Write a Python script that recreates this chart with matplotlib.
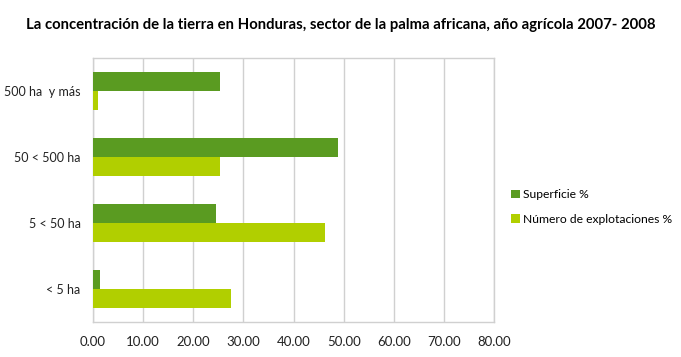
import matplotlib.pyplot as plt
import numpy as np

categories = ['< 5 ha', '5 < 50 ha', '50 < 500 ha', '500 ha  y más']
superficie = [1.45, 24.5, 48.8, 25.3]
explotaciones = [27.5, 46.2, 25.3, 1.0]
xticks = [0, 10, 20, 30, 40, 50, 60, 70, 80]

dark_green = '#5A9B21'
light_green = '#B1CF00'
grid_grey = '#D0D0D0'


def main():
    plt.rcParams['font.family'] = ['Lato', 'DejaVu Sans']
    fig = plt.figure(figsize=(6.81, 3.57), dpi=100)
    ax = fig.add_axes([0.1366, 0.099, 0.5888, 0.739])

    y = np.arange(len(categories))
    h = 0.287
    ax.barh(y + h / 2, superficie, height=h, color=dark_green, label='Superficie %', zorder=3)
    ax.barh(y - h / 2, explotaciones, height=h, color=light_green,
            label='Número de explotaciones %', zorder=3)

    ax.set_xlim(0, 80)
    ax.set_ylim(-0.5, len(categories) - 0.5)
    ax.set_xticks(xticks)
    ax.set_xticklabels(['%.2f' % v for v in xticks], fontsize=9.5, color='#222222')
    ax.set_yticks(y)
    ax.set_yticklabels(categories, fontsize=9, color='#222222')
    ax.tick_params(axis='y', length=0, pad=9)
    ax.tick_params(axis='x', length=0, pad=10)
    ax.grid(axis='x', color=grid_grey, linewidth=1, zorder=0)
    for s in ax.spines.values():
        s.set_color(grid_grey)
        s.set_linewidth(1)

    fig.text(0.5, 0.93, 'La concentración de la tierra en Honduras, sector de la palma africana, '
             'año agrícola 2007- 2008', ha='center', va='center', fontsize=10.7, fontweight='bold')

    fig.legend(loc='center left', bbox_to_anchor=(0.735, 0.42), frameon=False,
               fontsize=8.7, handlelength=0.7, handleheight=0.7, handletextpad=0.3,
               labelspacing=1.1)

    fig.savefig('out.png', dpi=100)


if __name__ == '__main__':
    main()
